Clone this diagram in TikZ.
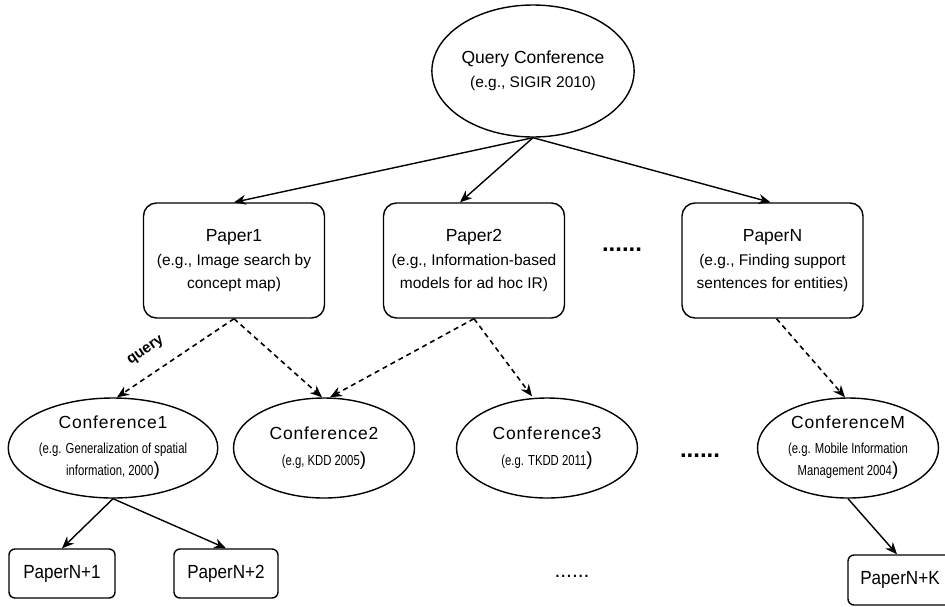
\documentclass[tikz,border=0pt]{standalone}
\usepackage{fontspec}
\setmainfont{Liberation Sans}
\newfontfamily\narrowsans[FakeStretch=0.78]{Liberation Sans}
\newfontfamily\spacedsans[LetterSpace=5]{Liberation Sans}
\newfontfamily\condsans[FakeStretch=0.9]{Liberation Sans}
\usetikzlibrary{shapes.geometric,arrows.meta,calc}
\newcommand\mytitle{\fontsize{17.5}{20}\selectfont}
\newcommand\mysub{\fontsize{15.5}{23}\selectfont}
\newcommand\conftitle{\spacedsans\fontsize{17.5}{20}\selectfont}
\newcommand\confsub{\narrowsans\fontsize{14.5}{22}\selectfont}
\newcommand\bigparen{{\normalfont\fontsize{19}{19}\selectfont)}}
\tikzset{
  lw/.style={line width=1.4pt},
  paperbox/.style={draw, lw, rounded corners=13pt, minimum width=181pt, minimum height=115pt, inner sep=0pt, align=center, font=\mysub},
  confell/.style={draw, lw, ellipse, minimum width=181pt, minimum height=100pt, inner sep=0pt, align=center, font=\confsub},
  smallbox/.style={draw, lw, rounded corners=6pt, minimum height=49pt, inner sep=0pt, font=\condsans\fontsize{19}{20}\selectfont},
  solidarrow/.style={-{Stealth[length=12pt,width=10pt]}, line width=1.4pt},
  dasharrow/.style={solidarrow, line width=1.6pt, dash pattern=on 5pt off 4pt},
  bigdots/.style={inner sep=0pt, font=\bfseries\fontsize{24}{24}\selectfont},
  smalldots/.style={inner sep=0pt, font=\fontsize{21}{21}\selectfont}
}
\begin{document}
\begin{tikzpicture}[x=1pt,y=-1pt]
\useasboundingbox (0,0) rectangle (945,606);
\clip (0,0) rectangle (945,606);
% top
\node[draw, lw, ellipse, minimum width=182pt, minimum height=132pt, inner sep=0pt, align=center, font=\mysub] (q) at (533,71)
  {{\mytitle Query Conference}\\[1pt](e.g., SIGIR 2010)};
% papers
\node[paperbox] (p1) at (234,260.5) {{\mytitle Paper1}\\[1pt](e.g., Image search by\\concept map)};
\node[paperbox] (p2) at (474,260.5) {{\mytitle Paper2}\\[1pt](e.g., Information-based\\models for ad hoc IR)};
\node[paperbox] (pn) at (772.5,260.5) {{\mytitle PaperN}\\[1pt](e.g., Finding support\\sentences for entities)};
\node[bigdots] (d1) at (622,250) {......};
% conferences
\node[confell] (c1) at (113,448) {{\conftitle Conference1}\\[3pt](e.g. Generalization of spatial\\information, 2000\bigparen};
\node[confell] (c2) at (324,448) {{\conftitle Conference2}\\[4pt](e.g, KDD 2005\bigparen};
\node[confell] (c3) at (547,448) {{\conftitle Conference3}\\[4pt](e.g. TKDD 2011\bigparen};
\node[bigdots] (d2) at (700,456) {......};
\node[confell] (cm) at (848,448) {{\conftitle ConferenceM}\\[3pt](e.g. Mobile Information\\Management 2004\bigparen};
% bottom papers
\node[smallbox, minimum width=106pt] (n1) at (62,573.5) {PaperN+1};
\node[smallbox, minimum width=104pt] (n2) at (226,573.5) {PaperN+2};
\node[smalldots] (d3) at (572,576) {......};
\node[smallbox, minimum width=104pt, minimum height=50pt] (nk) at (900,580) {PaperN+K};
% arrows
\draw[solidarrow] (q.south) -- (p1.north);
\draw[solidarrow] (q.south) -- ([xshift=-14pt]p2.north);
\draw[solidarrow] (q.south) -- ([xshift=-2pt]pn.north);
\draw[dasharrow] (p1.south) -- ([xshift=4pt]c1.north);
\draw[dasharrow] (p1.south) -- ([xshift=-2pt]c2.north);
\draw[dasharrow] (p2.south) -- ([xshift=6pt]c2.north);
\draw[dasharrow] (p2.south) -- ([xshift=-15pt,yshift=1pt]c3.north);
\draw[dasharrow] ([xshift=4pt]pn.south) -- ([xshift=-3pt]cm.north);
\node[rotate=34.6, font=\bfseries\fontsize{15}{15}\selectfont, inner sep=1pt] (ql) at (146,351) {query};
\draw[solidarrow] (c1.south) -- (n1.north);
\draw[solidarrow] (c1.south) -- (n2.north);
\draw[solidarrow] (cm.south) -- ([xshift=-3pt]nk.north);
\end{tikzpicture}
\end{document}
